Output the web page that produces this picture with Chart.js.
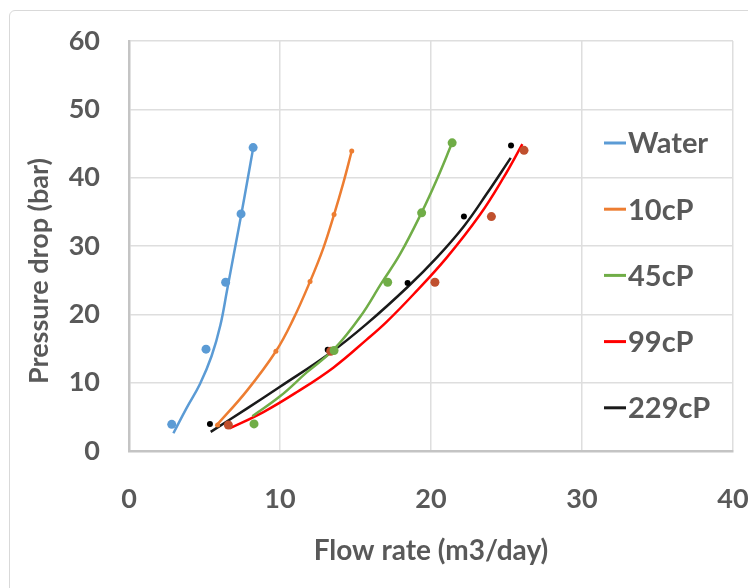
<!DOCTYPE html>
<html>
<head>
<meta charset="utf-8">
<script src="https://cdn.jsdelivr.net/npm/chart.js@4.4.1/dist/chart.umd.min.js"></script>
<style>
  html, body { margin: 0; padding: 0; background: #fff; }
  #wrap { position: relative; width: 748px; height: 588px; overflow: hidden; }
  #marco { position: absolute; left: 9px; top: 10px; width: 760px; height: 600px;
           border: 1.5px solid #d9d9d9; border-radius: 6px; }
  #myChart { position: absolute; left: 0; top: 0; }
</style>
</head>
<body>
<div id="wrap">
  <div id="marco"></div>
  <canvas id="myChart" width="748" height="588"></canvas>
</div>
<script>
// etiquetas de las series
const series = ['Water', '10cP', '45cP', '99cP', '229cP'];

// puntos medidos (caudal, caida de presion)
const waterX = [2.83, 5.1, 6.4, 7.42, 8.22];
const waterY = [3.9, 14.9, 24.7, 34.7, 44.4];
const cp10X = [5.87, 9.73, 11.99, 13.58, 14.75];
const cp10Y = [3.8, 14.6, 24.8, 34.6, 43.9];
const cp45X = [8.28, 13.58, 17.13, 19.38, 21.4];
const cp45Y = [3.96, 14.7, 24.7, 34.85, 45.1];
const cp99X = [6.58, 13.36, 20.26, 24.0, 26.16];
const cp99Y = [3.8, 14.6, 24.7, 34.3, 44.0];
const cp229X = [5.36, 13.16, 18.45, 22.18, 25.3];
const cp229Y = [3.96, 14.8, 24.6, 34.3, 44.7];

// lineas de tendencia
const waterFitX = [2.94, 3.82, 4.7, 5.47, 6.05, 6.5, 6.95, 7.46, 7.86, 8.23];
const waterFitY = [2.6, 6.3, 9.8, 13.9, 18.4, 23.6, 28.9, 34.9, 39.8, 44.4];
const cp10FitX = [5.74, 7.8, 9.73, 10.88, 11.99, 12.87, 13.58, 14.19, 14.75];
const cp10FitY = [3.6, 8.8, 14.6, 19.3, 24.8, 29.7, 34.6, 39.2, 43.9];
const cp45FitX = [8.17, 10.0, 11.77, 13.58, 15.3, 16.73, 17.95, 19.38, 20.38, 21.4];
const cp45FitY = [5.1, 8.0, 11.5, 14.9, 19.6, 24.6, 28.8, 34.9, 39.7, 45.1];
const cp99FitX = [6.65, 8.9, 11.1, 13.53, 15.74, 17.06, 18.83, 21.04, 23.25, 24.8, 26.05];
const cp99FitY = [3.3, 5.7, 8.6, 12.2, 16.3, 18.9, 22.9, 28.3, 34.6, 40.0, 44.9];
const cp229FitX = [5.41, 7.8, 10.0, 13.3, 15.74, 18.45, 20.38, 22.18, 23.68, 25.28];
const cp229FitY = [2.8, 6.2, 9.4, 14.3, 18.6, 24.0, 28.3, 32.9, 37.6, 42.9];

// ejes
const xTicks = [0, 10, 20, 30, 40];
const yTicks = [0, 10, 20, 30, 40, 50, 60];

const lineColors = ['#5b9bd5', '#ed7d31', '#70ad47', '#ff0000', '#1a1a1a'];
const pointColors = ['#5b9bd5', '#ed7d31', '#70ad47', '#c0502e', '#000000'];
const pointSizes = [4.5, 2.5, 4.5, 4.5, 3];

const fuente = 'Lato, "Liberation Sans", sans-serif';
const gris = '#595959';

const ctx = document.getElementById('myChart');

function pares(xs, ys) {
  return xs.map((x, i) => ({ x: x, y: ys[i] }));
}

function armar_datasets() {
  let puntos = [
    [waterX, waterY], [cp10X, cp10Y], [cp45X, cp45Y], [cp99X, cp99Y], [cp229X, cp229Y]
  ];
  let curvas = [
    [waterFitX, waterFitY], [cp10FitX, cp10FitY], [cp45FitX, cp45FitY],
    [cp99FitX, cp99FitY], [cp229FitX, cp229FitY]
  ];
  let datasets = [];
  series.forEach((nombre, i) => {
    datasets.push({
      label: nombre,
      data: pares(curvas[i][0], curvas[i][1]),
      showLine: true,
      borderColor: lineColors[i],
      borderWidth: 2.5,
      pointRadius: 0,
      tension: 0.4,
      fill: false,
      order: 2
    });
    datasets.push({
      label: nombre + ' puntos',
      data: pares(puntos[i][0], puntos[i][1]),
      showLine: false,
      pointRadius: pointSizes[i],
      pointBackgroundColor: pointColors[i],
      pointBorderColor: pointColors[i],
      pointBorderWidth: 0,
      order: 1
    });
  });
  return datasets;
}

/* leyenda y titulo vertical dibujados a mano */
const leyenda = {
  id: 'leyenda',
  afterDraw(chart) {
    let c = chart.ctx;
    let x0 = 604;
    let y0 = 143;
    let paso = 66.2;
    c.save();
    c.font = 'bold 29px ' + fuente;
    c.textBaseline = 'middle';
    c.textAlign = 'left';
    chart.data.datasets.filter(d => d.showLine).forEach((d, i) => {
      let y = y0 + i * paso;
      c.strokeStyle = d.borderColor;
      c.lineWidth = 3;
      c.beginPath();
      c.moveTo(x0, y);
      c.lineTo(x0 + 22, y);
      c.stroke();
      c.fillStyle = gris;
      c.fillText(d.label, x0 + 24, y + 1);
    });
    // titulo del eje y
    c.translate(39, 271);
    c.rotate(-Math.PI / 2);
    c.textAlign = 'center';
    c.font = 'bold 27px ' + fuente;
    c.fillStyle = gris;
    c.fillText('Pressure drop (bar)', 0, 0);
    c.restore();
  }
};

function start_chart() {
  const config = {
    type: 'scatter',
    data: { datasets: armar_datasets() },
    options: {
      responsive: false,
      animation: false,
      layout: { padding: { top: 41, right: 15, left: 0, bottom: 0 } },
      plugins: {
        legend: { display: false },
        tooltip: { enabled: false }
      },
      scales: {
        x: {
          type: 'linear',
          min: 0,
          max: 40,
          afterBuildTicks: (scale) => { scale.ticks = xTicks.map(v => ({ value: v })); },
          afterFit: (scale) => {
            scale.height = 137;
            scale.paddingLeft = 0;
            scale.paddingRight = 0;
          },
          grid: { color: '#dedede', lineWidth: 1.5, drawTicks: false },
          border: { color: '#c4c4c4', width: 2.5 },
          ticks: { color: gris, padding: 32, font: { family: fuente, size: 27, weight: 'bold' } },
          title: {
            display: true,
            text: 'Flow rate (m3/day)',
            color: gris,
            padding: { top: 0, bottom: 20 },
            font: { family: fuente, size: 28, weight: 'bold' }
          }
        },
        y: {
          type: 'linear',
          min: 0,
          max: 60,
          afterBuildTicks: (scale) => { scale.ticks = yTicks.map(v => ({ value: v })); },
          afterFit: (scale) => {
            scale.width = 129;
            scale.paddingTop = 0;
            scale.paddingBottom = 0;
          },
          grid: { color: '#dedede', lineWidth: 1.5, drawTicks: false },
          border: { color: '#c4c4c4', width: 2.5 },
          ticks: { color: gris, padding: 29, font: { family: fuente, size: 27, weight: 'bold' } },
          title: { display: false }
        }
      }
    },
    plugins: [leyenda]
  };
  new Chart(ctx, config);
}

function load_document() {
  start_chart();
}

window.addEventListener('load', load_document);
</script>
</body>
</html>
